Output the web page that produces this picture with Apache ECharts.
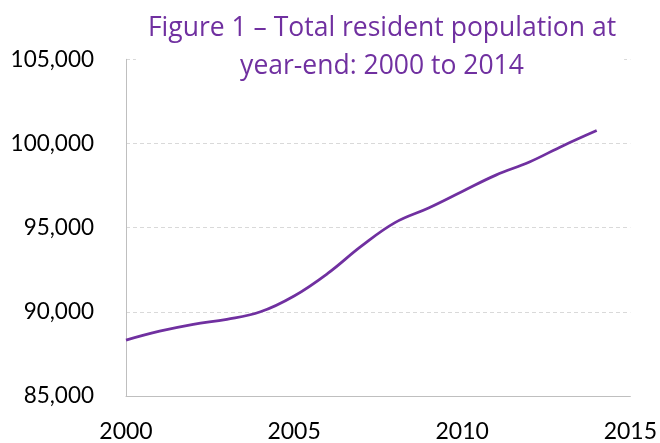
<!DOCTYPE html>
<html>
<head>
<meta charset="utf-8">
<script src="https://cdn.jsdelivr.net/npm/echarts@6/dist/echarts.min.js"></script>
<style>
html,body{margin:0;padding:0;background:#fff;}
#chart{width:660px;height:443px;}
</style>
</head>
<body>
<div id="chart"></div>
<script>
var titleText = 'Figure 1 \u2013 Total resident population at\nyear-end: 2000 to 2014';
var years = [2000, 2001, 2002, 2003, 2004, 2005, 2006, 2007, 2008, 2009, 2010, 2011, 2012, 2013, 2014];
var population = [88320, 88850, 89260, 89550, 90000, 90940, 92280, 93900, 95300, 96170, 97150, 98120, 98900, 99870, 100770];
var xTicks = [2000, 2005, 2010, 2015];
var yTicks = [85000, 90000, 95000, 100000, 105000];

var points = years.map(function (y, i) { return [y, population[i]]; });

var chart = echarts.init(document.getElementById('chart'));
chart.setOption({
  animation: false,
  backgroundColor: '#ffffff',
  title: {
    text: titleText,
    left: 370,
    top: 7,
    textAlign: 'center',
    backgroundColor: '#ffffff',
    padding: [3, 8, 5, 12],
    textStyle: {
      fontFamily: 'Open Sans',
      fontSize: 26.5,
      fontWeight: 'normal',
      color: '#7030A0',
      lineHeight: 37.5
    }
  },
  grid: { left: 126, right: 27.5, top: 59.3, bottom: 43 },
  xAxis: {
    type: 'value',
    min: xTicks[0],
    max: xTicks[xTicks.length - 1],
    interval: 5,
    axisLine: { show: true, lineStyle: { color: '#bfbfbf', width: 1 } },
    axisTick: { show: false },
    splitLine: { show: false },
    axisLabel: {
      margin: 24,
      color: '#000',
      fontFamily: 'Lato',
      fontSize: 23,
      formatter: function (v) { return String(v); }
    }
  },
  yAxis: {
    type: 'value',
    min: yTicks[0],
    max: yTicks[yTicks.length - 1],
    interval: 5000,
    axisLine: { show: true, lineStyle: { color: '#bfbfbf', width: 1 } },
    axisTick: { show: false },
    splitLine: { show: true, lineStyle: { color: '#d9d9d9', type: [4, 3], width: 1 } },
    axisLabel: {
      margin: 32,
      color: '#000',
      fontFamily: 'Lato',
      fontSize: 22.5,
      formatter: function (v) { return v.toLocaleString('en-US'); }
    }
  },
  series: [{
    type: 'line',
    data: points,
    smooth: 0.4,
    showSymbol: false,
    symbol: 'none',
    lineStyle: { color: '#7030A0', width: 2.75 }
  }]
});
</script>
</body>
</html>
